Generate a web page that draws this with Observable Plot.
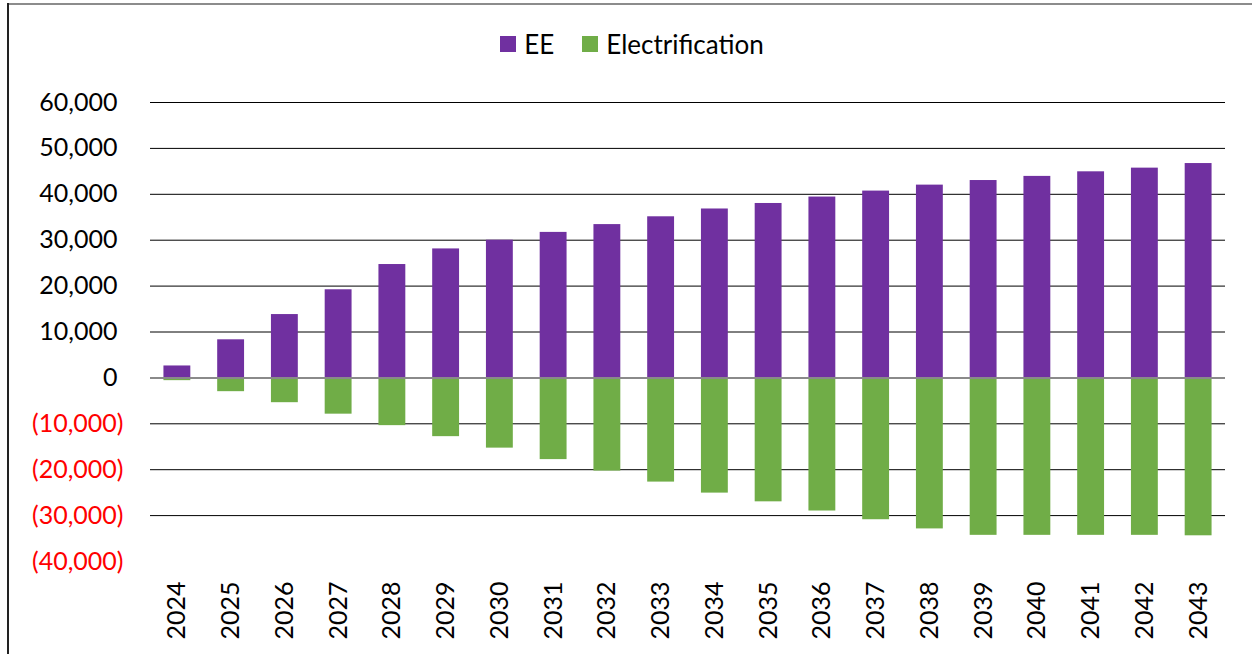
<!DOCTYPE html>
<html>
<head>
<meta charset="utf-8">
<script src="https://cdn.jsdelivr.net/npm/d3@7"></script>
<script src="https://cdn.jsdelivr.net/npm/@observablehq/plot@0.6"></script>
<style>
  html, body { margin: 0; padding: 0; background: #fff; overflow: hidden; }
  #wrap { position: relative; width: 1252px; height: 654px; font-family: Lato, "Open Sans", sans-serif; }
  #borderTop { position: absolute; left: 7px; top: 3px; width: 1245px; height: 2px; background: #8c8c8c; }
  #borderLeft { position: absolute; left: 7px; top: 3px; width: 1.5px; height: 651px; background: #222; }
  #legend { position: absolute; left: 0; top: 0; width: 1252px; height: 60px; display: flex; align-items: center; justify-content: center; padding-left: 12px; box-sizing: border-box; padding-top: 28px; font-size: 26px; color: #000; }
  .item { display: flex; align-items: center; margin-right: 28px; }
  .item:last-child { margin-right: 0; }
  .sw { width: 16px; height: 16px; margin-right: 8px; }
  #chart { position: absolute; left: 0; top: 60px; }
</style>
</head>
<body>
<div id="wrap">
  <div id="legend"></div>
  <div id="chart"></div>
  <div id="borderTop"></div>
  <div id="borderLeft"></div>
</div>
<script>
const years = [2024,2025,2026,2027,2028,2029,2030,2031,2032,2033,2034,2035,2036,2037,2038,2039,2040,2041,2042,2043];
const seriesNames = ["EE", "Electrification"];
const seriesColors = ["#7030A0", "#70AD47"];
const eeValues = [2600, 8300, 13800, 19200, 24700, 28100, 30000, 31700, 33400, 35100, 36800, 38000, 39400, 40700, 42000, 43000, 43900, 44900, 45700, 46700];
const elecValues = [-600, -3000, -5400, -7900, -10400, -12800, -15300, -17800, -20300, -22700, -25100, -27000, -29000, -30900, -32900, -34300, -34300, -34300, -34300, -34400];
const posTicks = [0, 10000, 20000, 30000, 40000, 50000, 60000];
const negTicks = [-10000, -20000, -30000, -40000];
const gridTicks = [-30000, -20000, -10000, 10000, 20000, 30000, 40000, 50000, 60000];

const data = [];
years.forEach((y, i) => {
  data.push({year: String(y), series: seriesNames[0], value: eeValues[i]});
  data.push({year: String(y), series: seriesNames[1], value: elecValues[i]});
});

const fmt = d3.format(",");

const legend = document.getElementById("legend");
seriesNames.forEach((n, i) => {
  const it = document.createElement("div");
  it.className = "item";
  const sw = document.createElement("div");
  sw.className = "sw";
  sw.style.background = seriesColors[i];
  const t = document.createElement("span");
  t.textContent = n;
  it.appendChild(sw); it.appendChild(t);
  legend.appendChild(it);
});

const chart = Plot.plot({
  width: 1252,
  height: 594,
  marginTop: 42,
  marginBottom: 93,
  marginLeft: 150,
  marginRight: 27,
  style: {fontFamily: 'Lato, "Open Sans", sans-serif', fontSize: "25px", background: "transparent", color: "#000"},
  x: {domain: years.map(String), paddingInner: 0.5, paddingOuter: 0.25, round: false, label: null},
  y: {domain: [-40000, 60000], label: null},
  color: {domain: seriesNames, range: seriesColors},
  marks: [
    Plot.gridY(gridTicks, {stroke: "#000", strokeOpacity: 1, strokeWidth: 1}),
    Plot.barY(data, {x: "year", y1: 0, y2: "value", fill: "series"}),
    Plot.ruleY([0], {stroke: "#8a8a8a", strokeWidth: 2}),
    Plot.axisY(posTicks, {tickSize: 0, tickPadding: 33, tickFormat: d => fmt(d), fill: "#000", fontSize: 25, label: null}),
    Plot.axisY(negTicks, {tickSize: 0, tickPadding: 27, tickFormat: d => "(" + fmt(-d) + ")", fill: "#ff0000", fontSize: 25, label: null}),
    Plot.axisX({tickSize: 0, tickPadding: 20, tickRotate: -90, fontSize: 25, fill: "#000", label: null})
  ]
});
document.getElementById("chart").appendChild(chart);
</script>
</body>
</html>
